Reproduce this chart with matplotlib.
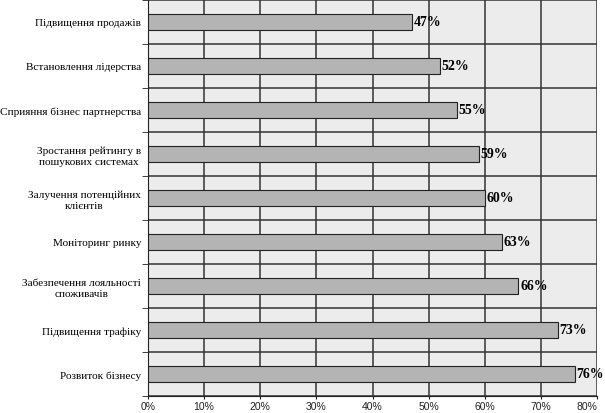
import matplotlib.pyplot as plt
import numpy as np
from matplotlib.ticker import FixedLocator

categories = ['Підвищення продажів', 'Встановлення лідерства', 'Сприяння бізнес партнерства',
              'Зростання рейтингу в\nпошукових системах', 'Залучення потенційних\nклієнтів',
              'Моніторинг ринку', 'Забезпечення лояльності\nспоживачів', 'Підвищення трафіку',
              'Розвиток бізнесу']
values = [47, 52, 55, 59, 60, 63, 66, 73, 76]
xticks = [0, 10, 20, 30, 40, 50, 60, 70, 80]

fig = plt.figure(figsize=(6.05, 4.14), dpi=100)
ax = fig.add_axes([148/605, 17/414, 449/605, 396/414])
ax.set_facecolor('#ececec')

y = np.arange(len(categories))
ax.barh(y, values, height=0.37, color='#b4b4b4', edgecolor='#222222', linewidth=0.8, zorder=3)
for yi, v in zip(y, values):
    ax.text(v + 0.3, yi, f'{v}%', va='center', ha='left', fontsize=10, fontweight='bold',
            family='Liberation Serif', zorder=4)

ax.set_xlim(0, 80)
ax.set_ylim(len(categories) - 0.5, -0.5)
ax.set_xticks(xticks)
ax.set_xticklabels([f'{t}%' for t in xticks], fontsize=7.5, family='Liberation Sans', color='#222222')
# keep the last tick label inside the figure
ax.get_xticklabels()[-1].set_horizontalalignment('right')
ax.get_xticklabels()[-1].set_x(80)
ax.set_yticks(y)
ax.set_yticklabels(categories, fontsize=8.1, family='Liberation Serif', linespacing=1.3,
                   multialignment='center')
ax.tick_params(axis='y', which='major', length=0, pad=5)
ax.tick_params(axis='x', which='major', length=2, pad=1.5, color='#222222')
ax.yaxis.set_minor_locator(FixedLocator(np.arange(-0.5, len(categories), 1)))
ax.tick_params(axis='y', which='minor', length=4, color='#222222')

ax.grid(axis='x', color='#333333', linewidth=1.1, zorder=1)
ax.grid(axis='y', which='minor', color='#333333', linewidth=1.1, zorder=1)
ax.set_axisbelow(True)

for s in ['top', 'right']:
    ax.spines[s].set_visible(False)
ax.spines['left'].set_color('#222222')
ax.spines['bottom'].set_color('#222222')

fig.savefig('out.png', dpi=100)
